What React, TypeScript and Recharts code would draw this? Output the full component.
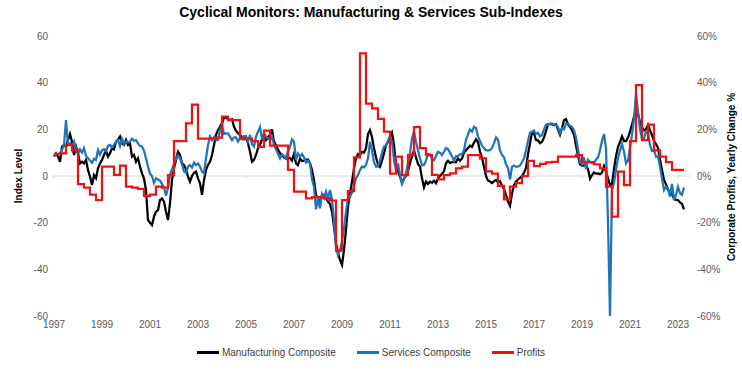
import {
  ComposedChart, Line, XAxis, YAxis, Legend, ReferenceLine
} from 'recharts'

// monthly, Jan 1997 .. Apr 2023
const START_YEAR = 1997

const MFG = [
  8.3, 9.7, 8.3, 6.1, 12.6, 13.3, 12.6, 15.4, 18, 14.7, 9, 12.6,
  9.7, 5.4, 6.1, 5.4, 6.9, 2.6, -0.3, -3.9, 0.4, -1, 3.3, 5.4,
  6.9, 9, 10.9, 8.3, 9.7, 11.9, 11.4, 14.7, 15.7, 16.9, 14, 13.3,
  15.4, 13.3, 14, 8.3, 9, 6.1, 7.6, 4, 1.1, -1, -6, -18.9,
  -20, -21, -17.4, -15.3, -14.6, -10.3, -9.6, -11, -15.3, -18.9, -11.7, -1.7,
  3.3, 6.9, 10.4, 9, 5.4, 4.7, 2.9, -0.3, -2.4, 0, 1.4, 1.9,
  -1, -3.1, -8.1, -1.7, 2.6, 4.7, 6.1, 9, 13.3, 17.6, 19.7, 21.1,
  22.6, 24.9, 25, 24.4, 24, 24.3, 21.1, 19.4, 18.3, 17.6, 16.6, 15.7,
  16.6, 14, 10.4, 6.1, 6.9, 9, 11.9, 13.3, 15.7, 16.9, 15.4, 16.7,
  17.6, 20, 14.7, 13.3, 11.4, 9.7, 8.9, 8, 7.4, 8, 7.6, 6.6,
  9.4, 5.4, 4.6, 7.6, 6.4, 6.6, 6.9, 7.1, 5.4, 2.6, -1.7, -8.1,
  -9.6, -11.7, -8.1, -8.1, -9.6, -11, -12, -15.3, -21.7, -28.9, -32.9, -36,
  -38.1, -31.7, -23.1, -13.1, -7.4, -2.4, 3.3, 7.6, 9.4, 9, 10.3, 10,
  11.9, 18, 19.7, 16.6, 12, 8, 5, 4, 6.6, 9.7, 13.3, 14.6,
  16.9, 18.6, 13.3, 4, 2, -0.3, -2.9, -1.1, 0.1, 2.3, 5.4, 8.6,
  10.9, 8, 5.1, 4, -1, -4.9, -2.4, -3.4, -2.4, -2.9, -2, -3.1,
  -1, 0, 1, 2, 5.5, 6.5, 5.5, 6, 6, 6, 7.5, 6.5,
  7.5, 10, 11, 12, 13, 12.5, 14.3, 15.7, 14.5, 10.5, 7.7, 4,
  0, -2, -2.4, -3, -2.2, -1.7, -2.8, -2.2, -4.1, -5.5, -8.1, -11,
  -12.8, -7.5, -3.9, -2.4, -1.5, -0.8, 0, 1.4, 3.5, 9.3, 14, 18.6,
  18.3, 15.4, 15.3, 14.1, 14.7, 16.5, 19.3, 22.2, 22.3, 22.1, 21.8, 22.2,
  20, 17.7, 20.5, 23.9, 24.4, 22.1, 21, 19.7, 17.7, 13.1, 8.8, 5,
  4.5, 4.6, 4.5, 3, -1.1, 0.4, 1.5, 1, 1.1, 0.8, 1.5, 4.3,
  1.9, -1, -4, -3.5, 3, 8.5, 12.5, 14.5, 17, 15, 15, 16.5,
  19, 22, 25.5, 28.5, 26.5, 23, 21, 19.5, 20, 22, 19.7, 17.5,
  15, 13.7, 12, 7, 2.6, -1.7, -3.6, -6, -6.7, -7.8, -9.7, -10.2,
  -10.3, -11.3, -12, -14.3,
]

const SVC = [
  8.6, 9.4, 9.4, 9.7, 11.1, 13.3, 24, 13.3, 14, 12.6, 14.7, 11.1,
  9.4, 11.4, 10, 11.9, 8.6, 7.6, 6.6, 5.7, 7.4, 6.9, 11.1, 9.1,
  11.1, 11.4, 10.6, 12.9, 13.3, 12.3, 13.3, 14.7, 15.4, 12.9, 16, 13.7,
  14.7, 14.3, 14.7, 16, 15.1, 15.4, 14, 12.9, 12.6, 10.9, 7.6, 4,
  1, 0, -3, -1, -1.5, -2, -3.4, -4.9, -8.5, -5, 0.4, 2.9,
  5.1, 7.6, 8.9, 7.6, 5.1, 1.9, 1.4, 4, 4.7, 3.6, 5.7, 4.7,
  5.4, 4, 1.9, 1.1, 7.6, 13.3, 16.9, 15.4, 16.6, 15.4, 15.4, 19.7,
  21.9, 18, 18.3, 18.3, 16.9, 15.4, 16.6, 16.6, 14.7, 16.1, 15.7, 17.1,
  17.1, 14.7, 17.6, 13.7, 12.6, 16.9, 19, 21, 15.7, 18.3, 16.9, 16.1,
  15.4, 16.9, 13.3, 11.4, 9.4, 7.6, 9.4, 8.6, 7.6, 10.4, 12.6, 15.7,
  14.7, 6.9, 9.7, 8.3, 9.4, 8, 5.7, 6.6, 5.4, -1.4, -4.6, -14.3,
  -9.6, -13.9, -7.7, -9.6, -6.7, -9.6, -6, -10, -18.9, -30.3, -33.9, -31.7,
  -28.1, -22.4, -15.3, -9.6, -8.9, -7.1, -4.3, -1, 0.4, 2.6, 4, 3.7,
  4.7, 7.6, 14.7, 11, 6, 4, 4, 6.5, 10, 12.6, 12.9, 15.1,
  16.9, 14.7, 6.9, 2.6, 5.4, 0.4, -3.4, -1.4, 1.1, 5.4, 9.7, 16.1,
  19, 14.7, 10.9, 7.6, 4.6, 4.7, 6.6, 9.4, 9.3, 7.3, 6.7, 8.6,
  10.4, 10, 9, 10.4, 12, 11.5, 10, 8.4, 6.5, 8.5, 8.5, 9.3,
  9.3, 11, 15.5, 17.8, 20, 19, 21.1, 20.5, 17, 15, 13, 12,
  11, 11, 11, 12, 14, 16.5, 15.5, 11, 9, 8, 5, 3.5,
  -1.5, 4, 4.5, 4, 4, 4.5, 6, 7.5, 11, 15, 18.5, 19,
  19.5, 18, 18.5, 17, 17.5, 20, 22, 22, 22.5, 22.5, 22, 22,
  21, 18.5, 20.5, 20, 22.5, 22.5, 21.5, 21, 19.5, 16.5, 11.5, 6,
  5, 8, 3, 7, 6, 5.5, 5.5, 7, 8, 11, 15, 18,
  12, -20, -60, -6, -3, 2.6, 7.6, 10.9, 13.7, 10.4, 5.4, 6.6,
  12.3, 17.6, 24.7, 35, 28, 20, 15.8, 16, 19, 18.3, 13.3, 10.8,
  11, 8.3, 8.5, 4, -1, -6, -4.6, -5.3, -8.9, -3.4, -10.3, -8.1,
  -4.6, -7.4, -8.1, -4.9,
]

// quarterly, 1997Q1 .. 2023Q2 (yearly change %)
const PROFITS = [
  9.4, 9.7, 13.3, 11,
  -3.5, -5, -8, -10.3,
  4, 4, 0.5, 4.5,
  -4.5, -5, -5.5, -8.5,
  -8, -4.6, -5, 0.4,
  15, 15, 22.6, 30.6,
  16, 16, 16, 16.5,
  25.4, 24, 24, 16,
  16, 15, 12.5, 19.5,
  13, 13, 13, 2.6,
  -6.7, -6.7, -9.6, -9,
  -9, -9.5, -10.5, -32,
  -10.3, -6.5, 8, 52.6,
  31, 29, 24.5, 19,
  1, 8.3, 0.4, 9,
  21, 12, 9, 0.5,
  -1.4, 0.4, 1.1, 3.3,
  4, 9, 9, 7.6,
  2, 1, -4.2, -10,
  -4.6, -3, 0, 6.5,
  4.2, 5.2, 5.8, 6.1,
  8.3, 8.3, 8.3, 9,
  6, 6, 5, 3.3,
  -4.6, -17.4, 1.9, -3.9,
  15, 39, 15.4, 22,
  11, 8.3, 6, 2.6,
  2.6, 2.6,
]

const YEAR_TICKS = [1997, 1999, 2001, 2003, 2005, 2007, 2009, 2011, 2013, 2015, 2017, 2019, 2021, 2023]
const VALUE_TICKS = [-60, -40, -20, 0, 20, 40, 60]

const FONT = '"Liberation Sans", Arial, sans-serif'
const BLACK = '#000000'
const BLUE = '#1f74bd'
const RED = '#ee1111'

const chartData = MFG.map((v, i) => ({
  t: START_YEAR + i / 12,
  mfg: v,
  svc: SVC[i],
  profits: i % 3 === 0 && PROFITS[i / 3] !== undefined ? PROFITS[i / 3] : null,
}))

const legendItems = [
  { name: 'Manufacturing Composite', color: BLACK },
  { name: 'Services Composite', color: BLUE },
  { name: 'Profits', color: RED },
]

const LegendContent = () => (
  <div style={{ display: 'flex', justifyContent: 'center', alignItems: 'center', gap: 21, paddingTop: 7, fontSize: 10, color: '#404040', fontFamily: FONT }}>
    {legendItems.map(it => (
      <div key={it.name} style={{ display: 'flex', alignItems: 'center', gap: 3 }}>
        <span style={{ display: 'inline-block', width: 22, height: 3, background: it.color }} />
        <span>{it.name}</span>
      </div>
    ))}
  </div>
)

const tickStyle = { fontSize: 10, fill: '#595959', fontFamily: FONT }

export default function App() {
  return (
    <div style={{ position: 'absolute', left: 0, top: 0, width: 742, height: 375, background: '#fff', fontFamily: FONT }}>
      <ComposedChart width={742} height={375} data={chartData} margin={{ top: 36, right: 8, bottom: 15, left: 8 }}>
        <XAxis
          dataKey="t"
          type="number"
          domain={[START_YEAR - 1 / 12, 2023.5]}
          ticks={YEAR_TICKS}
          tickFormatter={(v: number) => String(Math.round(v))}
          allowDataOverflow
          axisLine={false}
          tickLine={false}
          tickSize={0}
          tickMargin={5}
          height={24}
          tick={tickStyle}
          interval={0}
        />
        <YAxis
          yAxisId="left"
          domain={[-60, 60]}
          ticks={VALUE_TICKS}
          axisLine={false}
          tickLine={false}
          tickSize={0}
          tickMargin={4}
          width={44}
          tick={tickStyle}
          interval={0}
        />
        <YAxis
          yAxisId="right"
          orientation="right"
          domain={[-60, 60]}
          ticks={VALUE_TICKS}
          tickFormatter={(v: number) => `${v}%`}
          axisLine={false}
          tickLine={false}
          tickSize={0}
          tickMargin={7}
          width={44}
          tick={tickStyle}
          interval={0}
        />
        <Legend verticalAlign="bottom" height={20} content={<LegendContent />} />
        <ReferenceLine yAxisId="left" y={0} stroke="#d9d9d9" strokeWidth={1} />
        {YEAR_TICKS.map(y => (
          <ReferenceLine
            key={y}
            yAxisId="left"
            segment={[{ x: y, y: 0 }, { x: y, y: -1.1 }]}
            stroke="#d9d9d9"
            strokeWidth={1}
          />
        ))}
        <Line
          yAxisId="left"
          type="linear"
          dataKey="mfg"
          name="Manufacturing Composite"
          stroke={BLACK}
          strokeWidth={2.25}
          dot={false}
          activeDot={false}
          isAnimationActive={false}
        />
        <Line
          yAxisId="left"
          type="linear"
          dataKey="svc"
          name="Services Composite"
          stroke={BLUE}
          strokeWidth={2.25}
          dot={false}
          activeDot={false}
          isAnimationActive={false}
        />
        <Line
          yAxisId="right"
          type="stepAfter"
          dataKey="profits"
          name="Profits"
          stroke={RED}
          strokeWidth={2.25}
          dot={false}
          activeDot={false}
          connectNulls
          isAnimationActive={false}
        />
      </ComposedChart>

      <div style={{ position: 'absolute', left: 0, top: 4, width: 742, textAlign: 'center', fontSize: 14, fontWeight: 'bold', color: '#000' }}>
        Cyclical Monitors: Manufacturing &amp; Services Sub-Indexes
      </div>
      <div style={{ position: 'absolute', left: 18, top: 176, transform: 'translate(-50%, -50%) rotate(-90deg)', whiteSpace: 'nowrap', fontSize: 10, fontWeight: 'bold', color: '#000' }}>
        Index Level
      </div>
      <div style={{ position: 'absolute', left: 731, top: 177, transform: 'translate(-50%, -50%) rotate(-90deg)', whiteSpace: 'nowrap', fontSize: 10, fontWeight: 'bold', color: '#000' }}>
        Corporate Profits, Yearly Change %
      </div>
    </div>
  )
}
